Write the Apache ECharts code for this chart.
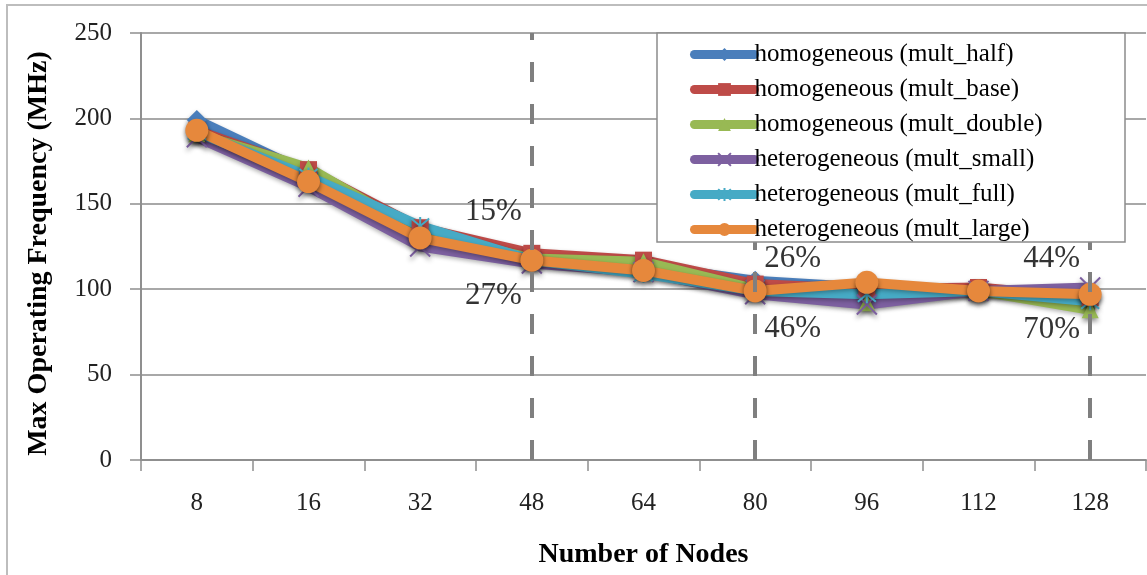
<!DOCTYPE html>
<html>
<head>
<meta charset="utf-8">
<title>Max Operating Frequency vs Number of Nodes</title>
<script src="https://cdn.jsdelivr.net/npm/echarts@6/dist/echarts.min.js"></script>
<style>
  html, body { margin: 0; padding: 0; background: #fff; }
  #chart { width: 1147px; height: 575px; }
</style>
</head>
<body>
<div id="chart"></div>
<script>
// Node counts on the x axis
const nodeCounts = ['8', '16', '32', '48', '64', '80', '96', '112', '128'];

// Max operating frequency (MHz) per configuration
const homMultHalf   = [199, 168, 133, 119, 114, 105, 101, 99, 96];
const homMultBase   = [193, 170, 136, 121, 117, 103, 100, 101, 95];
const homMultDouble = [191, 171, 133, 118, 116, 100, 92, 99, 88];
const hetMultSmall  = [189, 160, 125, 115, 110, 97, 91, 99, 101];
const hetMultFull   = [192, 166, 137, 117, 109, 99, 97, 99, 93];
const hetMultLarge  = [193, 163, 130, 117, 111, 99, 104, 99, 97];

// Node counts marked with a dashed reference line
const markedNodes = ['48', '80', '128'];

// Percentage annotations beside the reference lines
const pctText   = ['15%', '27%', '26%', '46%', '44%', '70%'];
const pctNode   = ['48', '48', '80', '80', '128', '128'];
const pctHeight = [145, 96, 118, 77, 118, 76];

const serif = '"Liberation Serif", "Times New Roman", serif';

const xMark = 'path://M0,0 L10,10 M10,0 L0,10';
const starMark = 'path://M0,0 L10,10 M10,0 L0,10 M5,-1 L5,11';

const shadow = { shadowBlur: 5, shadowColor: 'rgba(0,0,0,0.45)', shadowOffsetY: 3 };

function lineSeries(name, data, color, symbol, size, strokeOnly) {
  const itemStyle = strokeOnly
    ? Object.assign({ color: color, borderColor: color, borderWidth: 2 }, shadow)
    : Object.assign({ color: color, borderColor: color, borderWidth: 0 }, shadow);
  return {
    name: name,
    type: 'line',
    data: data,
    symbol: symbol,
    symbolSize: size,
    showSymbol: true,
    lineStyle: { color: color, width: 10, cap: 'round', join: 'round',
                 shadowBlur: 4, shadowColor: 'rgba(0,0,0,0.3)', shadowOffsetY: 2 },
    itemStyle: itemStyle,
    emphasis: { disabled: true },
    animation: false
  };
}

const names = [
  'homogeneous (mult_half)',
  'homogeneous (mult_base)',
  'homogeneous (mult_double)',
  'heterogeneous (mult_small)',
  'heterogeneous (mult_full)',
  'heterogeneous (mult_large)'
];

const series = [
  lineSeries(names[0], homMultHalf,   '#4A7EBB', 'diamond',  20, false),
  lineSeries(names[1], homMultBase,   '#BE4B48', 'rect',     17, false),
  lineSeries(names[2], homMultDouble, '#98B954', 'triangle', 17, false),
  lineSeries(names[3], hetMultSmall,  '#7D60A0', xMark,      20, true),
  lineSeries(names[4], hetMultFull,   '#46AAC5', starMark,   18, true),
  lineSeries(names[5], hetMultLarge,  '#E6883C', 'circle',   23, false)
];

// dashed reference lines drawn over the data
series[5].markLine = {
  silent: true,
  symbol: ['none', 'none'],
  label: { show: false },
  lineStyle: { color: '#7f7f7f', width: 4, type: [20, 22] },
  data: markedNodes.map(n => ({ xAxis: n })),
  animation: false
};

// percentage annotations
const leftSide = { '48': true, '80': false, '128': true };
series.push({
  name: 'pct',
  type: 'scatter',
  symbolSize: 0,
  silent: true,
  z: 6,
  animation: false,
  data: pctText.map((t, i) => ({
    name: t,
    value: [pctNode[i], pctHeight[i]],
    label: leftSide[pctNode[i]]
      ? { position: 'left', distance: 10 }
      : { position: 'right', distance: 9 }
  })),
  label: {
    show: true,
    formatter: p => p.name,
    fontFamily: serif,
    fontSize: 31,
    color: '#000'
  }
});

const chart = echarts.init(document.getElementById('chart'), null, { renderer: 'canvas' });

chart.setOption({
  animation: false,
  backgroundColor: '#fff',
  graphic: [
    {
      type: 'rect',
      z: -10,
      shape: { x: 7, y: 5, width: 1160, height: 600 },
      style: { fill: 'none', stroke: '#bdbdbd', lineWidth: 2 }
    },
    {
      type: 'rect',
      z: 20,
      shape: { x: 657, y: 33, width: 468, height: 209 },
      style: { fill: '#fff', stroke: '#8c8c8c', lineWidth: 1.5 }
    }
  ],
  grid: { left: 141, right: 1, top: 33, bottom: 115, containLabel: false },
  legend: {
    data: names,
    orient: 'vertical',
    left: 690,
    top: 40,
    z: 30,
    itemWidth: 60,
    itemHeight: 16,
    itemGap: 6,
    padding: 0,
    selectedMode: false,
    lineStyle: { width: 9, cap: 'round' },
    textStyle: { fontFamily: serif, fontSize: 25, color: '#000', lineHeight: 29, padding: [0, 0, 0, -5] }
  },
  xAxis: {
    type: 'category',
    data: nodeCounts,
    boundaryGap: true,
    name: 'Number of Nodes',
    nameLocation: 'middle',
    nameGap: 81,
    nameTextStyle: { fontFamily: serif, fontSize: 28, fontWeight: 'bold', color: '#000' },
    axisLine: { show: true, lineStyle: { color: '#8f8f8f', width: 2 } },
    axisTick: { show: true, length: 11, lineStyle: { color: '#8f8f8f', width: 1.5 } },
    axisLabel: { fontFamily: serif, fontSize: 25, color: '#222', margin: 31 },
    splitLine: { show: false }
  },
  yAxis: {
    type: 'value',
    min: 0,
    max: 250,
    interval: 50,
    name: 'Max Operating Frequency (MHz)',
    nameLocation: 'middle',
    nameGap: 88,
    nameTextStyle: { fontFamily: serif, fontSize: 28, fontWeight: 'bold', color: '#000', padding: [0, 14, 0, 0] },
    axisLine: { show: true, lineStyle: { color: '#8f8f8f', width: 2 } },
    axisTick: { show: true, length: 11, lineStyle: { color: '#8f8f8f', width: 1.5 } },
    axisLabel: { fontFamily: serif, fontSize: 25, color: '#222', margin: 29 },
    splitLine: { show: true, lineStyle: { color: '#a8a8a8', width: 2 } }
  },
  series: series
});
</script>
</body>
</html>
